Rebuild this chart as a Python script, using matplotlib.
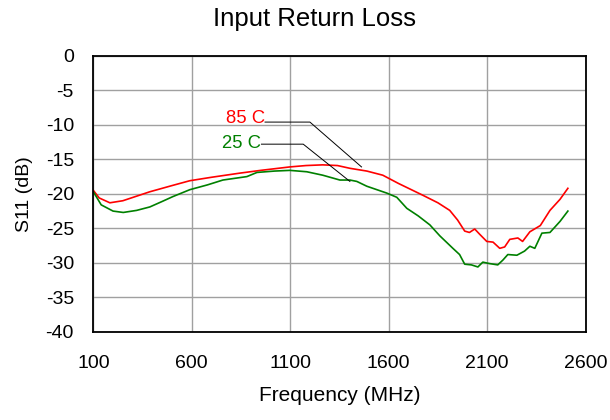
import numpy as np
import matplotlib.pyplot as plt

plt.rcParams['font.family'] = ['Liberation Sans', 'DejaVu Sans']
plt.rcParams['axes.unicode_minus'] = False

# 85 C trace (MHz, dB)
f_85 = [100, 130, 184, 250, 387, 500, 590, 700, 844, 950, 1098, 1180, 1265, 1340, 1403,
        1489, 1570, 1650, 1773, 1850, 1910, 1950, 1986, 2010, 2037, 2060, 2098, 2130,
        2164, 2189, 2215, 2256, 2280, 2317, 2370, 2419, 2470, 2510]
s_85 = [-19.5, -20.6, -21.3, -21.0, -19.7, -18.8, -18.1, -17.6, -17.0, -16.6, -16.1, -15.9,
        -15.8, -15.9, -16.3, -16.7, -17.3, -18.5, -20.2, -21.3, -22.4, -23.8, -25.4, -25.6,
        -25.1, -25.8, -26.9, -27.0, -27.9, -27.7, -26.6, -26.4, -26.9, -25.5, -24.6, -22.4,
        -20.8, -19.2]

# 25 C trace (MHz, dB)
f_25 = [100, 140, 200, 252, 320, 387, 450, 504, 590, 680, 758, 880, 931, 1020, 1098, 1184,
        1265, 1352, 1403, 1438, 1489, 1591, 1641, 1692, 1750, 1809, 1860, 1926, 1960, 1986,
        2020, 2053, 2078, 2110, 2154, 2180, 2205, 2251, 2290, 2317, 2342, 2378, 2419, 2470,
        2510]
s_25 = [-19.7, -21.6, -22.5, -22.7, -22.4, -21.9, -21.1, -20.4, -19.4, -18.7, -18.0, -17.5,
        -16.9, -16.7, -16.6, -16.8, -17.3, -18.0, -18.0, -18.2, -18.9, -19.9, -20.5, -22.1,
        -23.2, -24.5, -26.1, -27.9, -28.8, -30.2, -30.3, -30.6, -29.9, -30.1, -30.3, -29.6,
        -28.8, -28.9, -28.3, -27.6, -27.9, -25.7, -25.6, -24.0, -22.5]

fig = plt.figure(figsize=(6.1, 4.2), dpi=100)
ax = fig.add_axes([0.153, 0.210, 0.807, 0.657])

ax.plot(f_85, s_85, color='#ff0000', lw=1.2)
ax.plot(f_25, s_25, color='#008000', lw=1.2)

ax.set_xlim(100, 2600)
ax.set_ylim(-40, 0)
ax.set_xticks(np.arange(100, 2601, 500))
ax.set_yticks(np.arange(-40, 1, 5))
ax.grid(True, color='#a0a0a0', lw=1)
ax.tick_params(length=0, labelsize=14)
ax.tick_params(axis='x', pad=17)
ax.tick_params(axis='y', pad=14)
for s in ax.spines.values():
    s.set_linewidth(1.3)
    s.set_color('black')

# title is centred on the whole chart, not on the plot area
fig.text(0.515, 1 - 19 / 420, 'Input Return Loss', fontsize=18.5, ha='center', va='center')
ax.set_xlabel('Frequency (MHz)', fontsize=15, labelpad=10)
ax.set_ylabel('S11 (dB)', fontsize=14, labelpad=9)

# callout labels with leader lines
ax.text(972, -9.05, '85 C', color='#ff0000', fontsize=13.3, ha='right', va='center')
ax.plot([972, 1200, 1462], [-9.6, -9.6, -16.1], color='black', lw=0.7)
ax.text(954, -12.7, '25 C', color='#008000', fontsize=13.3, ha='right', va='center')
ax.plot([954, 1166, 1403], [-12.8, -12.8, -18.2], color='black', lw=0.7)

fig.savefig('out.png', dpi=100)
